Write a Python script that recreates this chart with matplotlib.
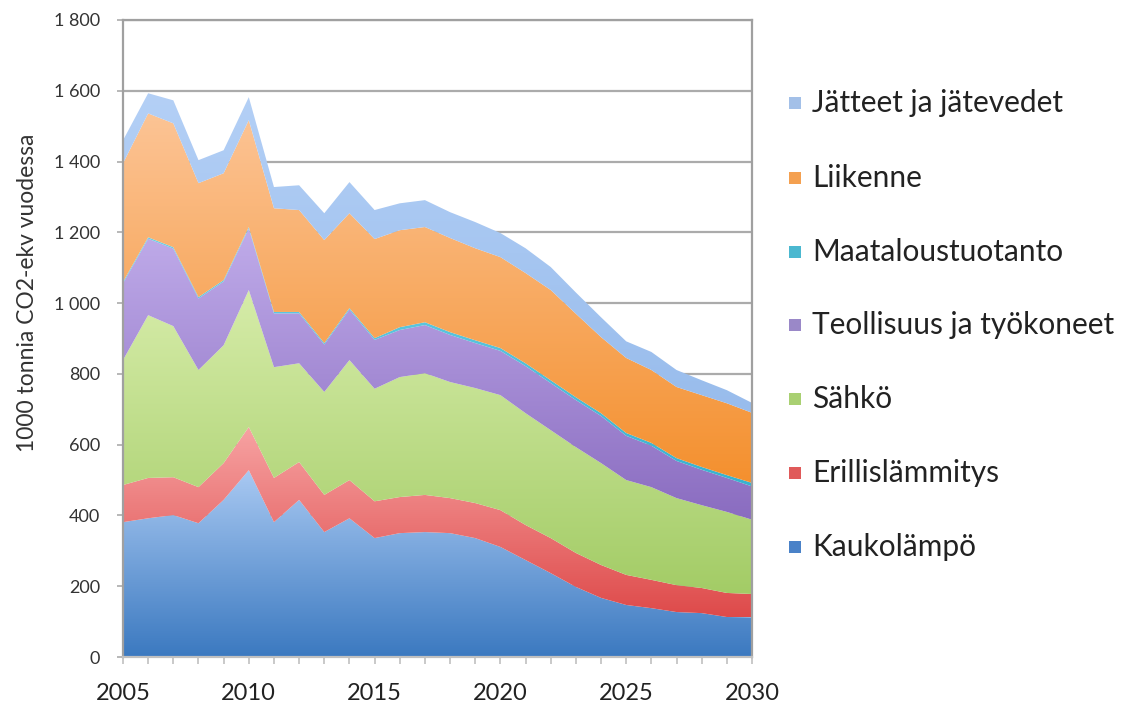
import numpy as np
import matplotlib
matplotlib.use("Agg")
import matplotlib.pyplot as plt
from matplotlib.colors import LinearSegmentedColormap
from matplotlib.patches import Rectangle

years = list(range(2005, 2031))

kaukolampo = [381, 392, 401, 378, 444, 528, 381, 444, 353, 392, 336, 350, 353,
              350, 336, 311, 274, 237, 198, 167, 147, 138, 127, 124, 113, 112]
erillislammitys = [105, 114, 107, 102, 104, 122, 125, 107, 105, 108, 104, 102, 105,
                   99, 99, 104, 99, 99, 96, 93, 85, 80, 76, 71, 68, 66]
sahko = [353, 460, 427, 331, 333, 387, 313, 279, 291, 339, 318, 339, 344,
         328, 325, 325, 316, 305, 299, 288, 268, 262, 246, 234, 229, 210]
teollisuus = [217, 216, 219, 202, 180, 174, 152, 141, 134, 143, 138, 133, 136,
              133, 127, 125, 133, 133, 133, 133, 125, 117, 105, 100, 96, 94]
maatalous = [4, 4, 4, 4, 4, 4, 4, 4, 4, 4, 5, 8, 8,
             8, 8, 8, 8, 8, 8, 8, 8, 8, 8, 8, 8, 10]
liikenne = [335, 350, 350, 322, 302, 302, 293, 288, 291, 268, 280, 274, 269,
            266, 260, 257, 255, 255, 236, 215, 212, 206, 201, 203, 203, 198]
jatteet = [65, 57, 65, 65, 65, 65, 60, 70, 76, 88, 82, 76, 76,
           73, 74, 68, 70, 65, 60, 56, 47, 51, 48, 42, 37, 28]

series_names = ["Kaukolämpö", "Erillislämmitys", "Sähkö", "Teollisuus ja työkoneet",
                "Maataloustuotanto", "Liikenne", "Jätteet ja jätevedet"]
series_values = [kaukolampo, erillislammitys, sahko, teollisuus, maatalous, liikenne, jatteet]

# (bottom colour, top colour, legend colour)
series_colors = [
    ("#3b79c0", "#a9c9f2", "#4a82c8"),
    ("#de4a4a", "#f7a3a3", "#e05a5a"),
    ("#a3cc66", "#d6eca9", "#a9d072"),
    ("#8a6cc0", "#c0acea", "#9a88c8"),
    ("#38b2cf", "#6fd0e6", "#4bb8d0"),
    ("#f4902e", "#fcc495", "#f4a050"),
    ("#98bcec", "#b4d0f6", "#a3c0e8"),
]

ytick_vals = list(range(0, 1801, 200))
xlabel_years = [2005, 2010, 2015, 2020, 2025, 2030]

plt.rcParams['font.family'] = ['Lato', 'DejaVu Sans']

W, H = 1124, 705
fig = plt.figure(figsize=(W / 100, H / 100), dpi=100)
ax = fig.add_axes([123 / W, (H - 657) / H, 629 / W, 637 / H])

x = np.array(years, dtype=float)
base = np.zeros(len(years))
for vals, (cb, ct, _) in zip(series_values, series_colors):
    top = base + np.array(vals, dtype=float)
    poly = ax.fill_between(x, base, top, facecolor='none', edgecolor='none', zorder=2)
    path = poly.get_paths()[0]
    ymin, ymax = base.min(), top.max()
    grad = np.linspace(0, 1, 256).reshape(-1, 1)
    cmap = LinearSegmentedColormap.from_list('g', [cb, ct])
    im = ax.imshow(grad, extent=[x[0], x[-1], ymin, ymax], origin='lower',
                   aspect='auto', cmap=cmap, zorder=2, interpolation='bilinear')
    im.set_clip_path(path, transform=ax.transData)
    base = top

ax.set_xlim(2005, 2030)
ax.set_ylim(0, 1800)
ax.set_aspect('auto')

grid_c = "#ababab"
ax.set_yticks(ytick_vals)
ax.set_yticklabels([f"{v:,}".replace(",", " ") for v in ytick_vals])
ax.yaxis.grid(True, color=grid_c, linewidth=1.6, zorder=1)
ax.set_axisbelow(True)
ax.set_xticks(years)
ax.set_xticklabels([str(y) if y in xlabel_years else "" for y in years])
ax.tick_params(axis='y', direction='out', length=4.5, width=1.2, color=grid_c,
               labelsize=13, labelcolor="#333333", pad=12)
ax.tick_params(axis='x', direction='out', length=5, width=1.2, color="#c0c0c0",
               labelsize=17, labelcolor="#222222", pad=14)
for s in ax.spines.values():
    s.set_color("#a0a0a0")
    s.set_linewidth(1.6)
ax.spines['bottom'].set_color("#c0c0c0")

fig.text(28 / W, 1 - 293 / H, "1000 tonnia CO2-ekv vuodessa", rotation=90,
         ha='center', va='center', fontsize=16.5, color="#333333")

# legend (top to bottom reversed order)
leg_y = [103, 178, 252, 325, 399, 473, 547]
for i, idx in enumerate(range(len(series_names) - 1, -1, -1)):
    yc = leg_y[i]
    fig.patches.append(Rectangle((789 / W, 1 - (yc + 6) / H), 12 / W, 12 / H,
                                 transform=fig.transFigure, facecolor=series_colors[idx][2],
                                 edgecolor='none'))
    fig.text(812 / W, 1 - yc / H, series_names[idx], ha='left', va='center',
             fontsize=21.5, color="#222222")

fig.savefig("out.png", dpi=100)
